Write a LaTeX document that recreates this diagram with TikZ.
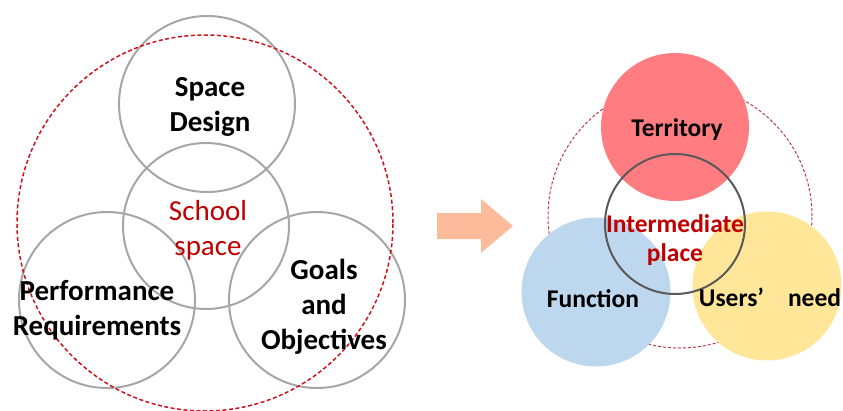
\documentclass[tikz,border=0pt]{standalone}
\usepackage{fontspec}
\setmainfont{Carlito}
\usetikzlibrary{arrows.meta}
\definecolor{ringgray}{RGB}{166,166,166}
\definecolor{darkred}{RGB}{192,0,0}
\definecolor{dashred}{RGB}{205,20,30}
\definecolor{dashbrown}{RGB}{190,60,70}
\definecolor{arrowpeach}{RGB}{252,188,155}
\definecolor{terrred}{RGB}{255,124,128}
\definecolor{funcblue}{RGB}{189,215,238}
\definecolor{useryellow}{RGB}{255,230,153}
\definecolor{innergray}{RGB}{89,89,89}

\begin{document}
\begin{tikzpicture}[
  x=1pt, y=-1pt,
  ring/.style={circle, draw=ringgray, line width=2pt, inner sep=0pt},
  outerring/.style={circle, draw=dashred, line width=1.5pt, dash pattern=on 4pt off 2.5pt, inner sep=0pt},
  thinring/.style={circle, draw=dashbrown, line width=1pt, dash pattern=on 3pt off 2pt, inner sep=0pt},
  disc/.style={circle, draw=none, inner sep=0pt},
  bigtext/.style={font=\fontsize{29}{35}\selectfont\bfseries, align=center, text=black},
  smalltext/.style={font=\fontsize{25.5}{29}\selectfont\bfseries, align=center, text=black},
]
\useasboundingbox (0,0) rectangle (843,410);

% ---- left: four rings ----
\node[ring, minimum size=176pt] (design) at (207,104) {};
\node[ring, minimum size=166pt] (school) at (206,226) {};
\node[ring, minimum size=176pt] (perf)   at (107,300) {};
\node[ring, minimum size=176pt] (goals)  at (317,300) {};
\node[outerring, minimum size=376pt] (whole) at (205,223) {};

% ---- left: labels ----
\node[bigtext] (designtxt) at (210,107) {Space\\Design};
\node[bigtext, font=\fontsize{29}{35}\selectfont, text=darkred] (schooltxt) at (208,230) {School\\space};
\node[bigtext] (perftxt)   at (97,310)  {Performance\\Requirements};
\node[bigtext] (goalstxt)  at (324,307) {Goals\\and\\Objectives};

% ---- arrow ----
\fill[arrowpeach] (437,213) -- (481,213) -- (481,199) -- (513,226)
  -- (481,253) -- (481,239) -- (437,239) -- cycle;

% ---- right: discs ----
\node[thinring, minimum size=264pt] (place) at (680,216) {};
\node[disc, fill=terrred, minimum size=148pt]    (terr)  at (675,127) {};
\node[disc, fill=funcblue, minimum size=149pt]   (func)  at (596,292) {};
\node[disc, fill=useryellow, minimum size=149pt] (users) at (767,286) {};
\node[circle, draw=innergray, line width=2pt, inner sep=0pt, minimum size=140pt] (inter) at (675,224) {};

% ---- right: labels ----
\node[smalltext] (terrtxt)  at (677,130) {Territory};
\node[smalltext, text=darkred] (intertxt) at (675,240) {Intermediate\\place};
\node[smalltext] (functxt)  at (593,299) {Function};
\node[smalltext] (userstxt) at (770,297) {Users’\hspace{24pt}need};

\end{tikzpicture}
\end{document}
